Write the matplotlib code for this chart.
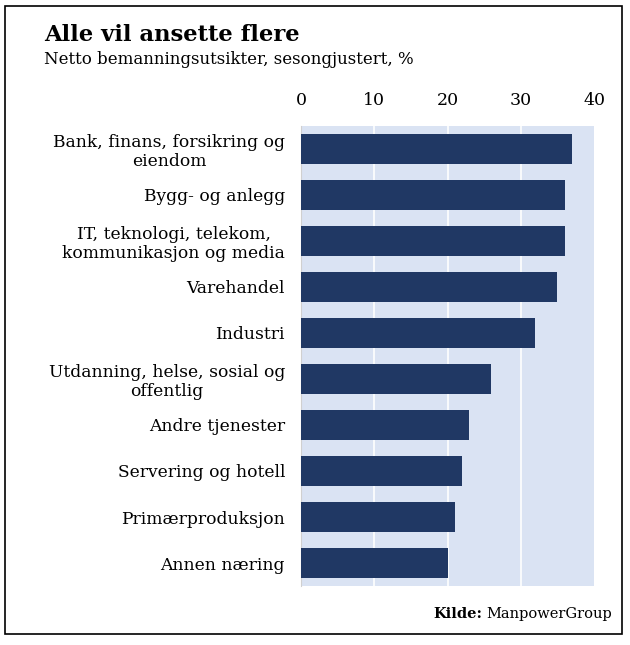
import matplotlib
matplotlib.use("Agg")
import matplotlib.pyplot as plt
from matplotlib.patches import Rectangle

categories = [
    "Bank, finans, forsikring og\neiendom",
    "Bygg- og anlegg",
    "IT, teknologi, telekom,\nkommunikasjon og media",
    "Varehandel",
    "Industri",
    "Utdanning, helse, sosial og\noffentlig",
    "Andre tjenester",
    "Servering og hotell",
    "Primærproduksjon",
    "Annen næring",
]
values = [37, 36, 36, 35, 32, 26, 23, 22, 21, 20]
xticks = [0, 10, 20, 30, 40]

plt.rcParams['font.family'] = ['DejaVu Serif']

fig = plt.figure(figsize=(6.3, 6.45), dpi=100)
ax = fig.add_axes([301/630, 1-586/645, 293/630, 460/645])
ax.set_facecolor('#DAE3F3')

ypos = list(range(len(categories)))
ax.barh(ypos, values, height=0.65, color='#203864', zorder=3)
ax.set_xlim(0, 40)
ax.set_ylim(len(categories) - 0.5, -0.5)
ax.set_yticks(ypos)
ax.set_yticklabels(categories, fontsize=12.3, linespacing=1.18)
for lab in ax.get_yticklabels():
    lab.set_multialignment('center')
ax.set_xticks(xticks)
ax.set_xticklabels([str(t) for t in xticks], fontsize=12.5)
ax.xaxis.tick_top()
ax.tick_params(axis='both', length=0)
ax.tick_params(axis='x', pad=12)
ax.tick_params(axis='y', pad=11.5)
for t in xticks[1:-1]:
    ax.axvline(t, color='white', lw=1.2, zorder=1)
for s in ['top', 'right', 'bottom']:
    ax.spines[s].set_visible(False)
ax.spines['left'].set_color('#d0d0d0')
ax.spines['left'].set_linewidth(0.8)

fig.text(44/630, 1-35/645, "Alle vil ansette flere", fontsize=16.3, fontweight='bold',
         va='center', ha='left')
fig.text(44/630, 1-60/645, "Netto bemanningsutsikter, sesongjustert, %", fontsize=12,
         va='center', ha='left')

src = fig.text(612/630, 1-614/645, "ManpowerGroup", fontsize=10.5, ha='right', va='center')
fig.canvas.draw()
bb = src.get_window_extent()
fig.text((bb.x0 - 4)/630, 1-614/645, "Kilde:", fontsize=10.5, fontweight='bold',
         ha='right', va='center')

fig.patches.append(Rectangle((5/630, 1-634/645), 617/630, 628/645, transform=fig.transFigure,
                             fill=False, edgecolor='black', lw=1.2))

fig.savefig("out.png", dpi=100, facecolor='white')
